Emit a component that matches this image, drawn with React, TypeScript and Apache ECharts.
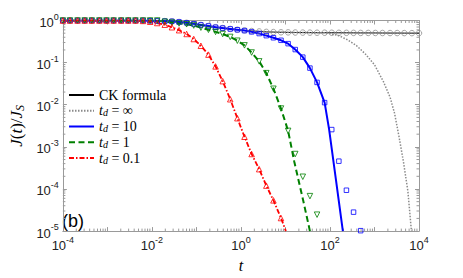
import React, { useEffect, useRef } from "react";
import * as echarts from "echarts";

// marker abscissae, log10(t)
const tExp = [
  -4.0, -3.84, -3.67, -3.51, -3.35, -3.18, -3.02, -2.86, -2.69, -2.53,
  -2.37, -2.2, -2.04, -1.88, -1.71, -1.55, -1.39, -1.22, -1.06, -0.9,
  -0.73, -0.57, -0.41, -0.24, -0.08, 0.08, 0.24, 0.41, 0.57, 0.73,
  0.9, 1.06, 1.22, 1.39, 1.55, 1.71, 1.88, 2.04, 2.2, 2.37,
  2.53, 2.69, 2.86, 3.02, 3.18, 3.35, 3.51, 3.67, 3.84, 4.0,
];

// log10(J/JS)
const ckLogJ = [
  0, 0, 0, 0, 0, 0, 0, 0, 0, 0,
  0, 0, -0.005, -0.01, -0.015, -0.02, -0.035, -0.055, -0.08, -0.105,
  -0.13, -0.16, -0.18, -0.2, -0.22, -0.235, -0.25, -0.26, -0.27, -0.275,
  -0.28, -0.282, -0.285, -0.287, -0.288, -0.29, -0.29, -0.291, -0.292, -0.293,
  -0.294, -0.295, -0.295, -0.296, -0.297, -0.298, -0.298, -0.299, -0.3, -0.3,
];

const infTailExp = [2.0, 2.2, 2.4, 2.6, 2.8, 3.0, 3.2, 3.35, 3.45, 3.55, 3.65, 3.75, 3.83];
const infTailLogJ = [-0.31, -0.36, -0.46, -0.6, -0.8, -1.05, -1.45, -1.82, -2.2, -2.75, -3.35, -4.05, -5.0];

const blueLogJ = [
  0, 0, 0, 0, 0, 0, 0, 0, 0, 0,
  0, 0, -0.005, -0.01, -0.015, -0.02, -0.035, -0.055, -0.08, -0.105,
  -0.13, -0.16, -0.18, -0.2, -0.22, -0.24, -0.27, -0.31, -0.36, -0.41,
  -0.47, -0.55, -0.69, -0.87, -1.13, -1.47, -1.95, -2.59, -3.34, -4.03,
  -4.55, -4.99,
];
const blueLineTailExp = [1.98, 2.13, 2.29];
const blueLineTailLogJ = [-2.58, -3.75, -5.0];

const greenLogJ = [
  0, 0, 0, 0, 0, 0, 0, 0, 0, 0,
  0, 0, 0, 0, -0.03, -0.05, -0.07, -0.09, -0.12, -0.17,
  -0.22, -0.27, -0.32, -0.39, -0.48, -0.59, -0.76, -0.97, -1.25, -1.62,
  -2.09, -2.62, -3.17, -3.71, -4.17, -4.61,
];
const greenLineTailExp = [1.2, 1.4, 1.55];
const greenLineTailLogJ = [-3.36, -4.28, -5.0];

const redLogJ = [
  0, 0, 0, 0, 0, 0, 0, 0, 0, 0,
  0, -0.01, -0.03, -0.06, -0.1, -0.16, -0.23, -0.32, -0.44, -0.6,
  -0.81, -1.09, -1.44, -1.87, -2.32, -2.76, -3.17, -3.53, -3.92, -4.27,
  -4.69,
];
const redLineTailExp = [1.01];
const redLineTailLogJ = [-5.0];

const legendNames = ["CK formula", "t_d = ∞", "t_d = 10", "t_d = 1", "t_d = 0.1"];

const xDecades = [-4, -3, -2, -1, 0, 1, 2, 3];
const yDecades = [-5, -4, -3, -2, -1];
const minorMult = [2, 3, 4, 5, 6, 7, 8, 9];

const pts = (xs: number[], ys: number[]) => ys.map((y, i) => [10 ** xs[i], 10 ** y]);
const linePts = (ys: number[], tx: number[], ty: number[]) =>
  pts(tExp, ys).concat(pts(tx, ty));

const AXIS = "#9a9a9a";
const SANS = "Liberation Sans, Arial, sans-serif";
const SERIF = "Liberation Serif, Times New Roman, serif";

export default function App() {
  const ref = useRef<HTMLDivElement>(null);
  useEffect(() => {
    if (!ref.current) return;
    const chart = echarts.init(ref.current, undefined, { renderer: "svg" });

    const supLabel = (v: number) => {
      const e = Math.round(Math.log10(v));
      return `{b|10}{s|${e}}`;
    };
    const labelRich = {
      b: { fontFamily: SANS, fontSize: 13, color: "#222", lineHeight: 17, verticalAlign: "bottom" },
      s: { fontFamily: SANS, fontSize: 9, color: "#222", lineHeight: 6, verticalAlign: "top" },
    };

    const xMinor = xDecades.flatMap((d) => minorMult.map((m) => [m * 10 ** d, 1]));
    const yMinor = yDecades.flatMap((d) => minorMult.map((m) => [1, m * 10 ** d]));

    const tickStyle = { stroke: AXIS, lineWidth: 1 };

    const option: any = {
      animation: false,
      grid: { left: 60, right: 44, top: 20.5, bottom: 45.5, containLabel: false },
      legend: {
        data: legendNames,
        orient: "vertical",
        left: 68,
        top: 88,
        itemWidth: 25,
        itemHeight: 14,
        itemGap: 1.75,
        padding: 0,
        itemStyle: { opacity: 0 },
        formatter: (name: string) => {
          if (name === "CK formula") return "{n|CK formula}";
          const v = name.split("=")[1].trim();
          return `{it|t}{sub|d}{n| = ${v}}`;
        },
        textStyle: {
          rich: {
            n: { fontFamily: SERIF, fontSize: 14, color: "#000", lineHeight: 14 },
            it: { fontFamily: SERIF, fontStyle: "italic", fontSize: 14, color: "#000", lineHeight: 14 },
            sub: { fontFamily: SERIF, fontStyle: "italic", fontSize: 10, color: "#000", lineHeight: 8, verticalAlign: "bottom" },
          },
        },
      },
      xAxis: [
        {
          type: "log",
          logBase: 10,
          min: 1e-4,
          max: 1e4,
          splitNumber: 8,
          name: "t",
          nameLocation: "middle",
          nameGap: 24,
          nameTextStyle: { fontFamily: SERIF, fontStyle: "italic", fontSize: 16, color: "#000" },
          axisLine: { show: true, lineStyle: { color: AXIS, width: 1 } },
          axisTick: { show: true, inside: true, length: 4, lineStyle: { color: AXIS } },
          splitLine: { show: false },
          axisLabel: {
            margin: 4,
            formatter: (v: number) => {
              const e = Math.round(Math.log10(v));
              return e % 2 === 0 ? supLabel(v) : "";
            },
            rich: labelRich,
          },
        },
        {
          type: "log",
          logBase: 10,
          min: 1e-4,
          max: 1e4,
          splitNumber: 8,
          position: "top",
          axisLine: { show: true, lineStyle: { color: AXIS, width: 1 } },
          axisTick: { show: true, inside: true, length: 4, lineStyle: { color: AXIS } },
          axisLabel: { show: false },
          splitLine: { show: false },
        },
      ],
      yAxis: [
        {
          type: "log",
          logBase: 10,
          min: 1e-5,
          max: 1,
          splitNumber: 5,
          name: "{i|J}{n|(}{i|t}{n|)/}{i|J}{sub|S}",
          nameLocation: "middle",
          nameGap: 28,
          nameTextStyle: {
            rich: {
              i: { fontFamily: SERIF, fontStyle: "italic", fontSize: 17, color: "#000", lineHeight: 18 },
              n: { fontFamily: SERIF, fontSize: 17, color: "#000", lineHeight: 18 },
              sub: { fontFamily: SERIF, fontStyle: "italic", fontSize: 12, color: "#000", lineHeight: 8, verticalAlign: "bottom" },
            },
          },
          axisLine: { show: true, lineStyle: { color: AXIS, width: 1 } },
          axisTick: { show: true, inside: true, length: 4, lineStyle: { color: AXIS } },
          splitLine: { show: false },
          axisLabel: { margin: 4, formatter: supLabel, rich: labelRich },
        },
        {
          type: "log",
          logBase: 10,
          min: 1e-5,
          max: 1,
          splitNumber: 5,
          position: "right",
          axisLine: { show: true, lineStyle: { color: AXIS, width: 1 } },
          axisTick: { show: true, inside: true, length: 4, lineStyle: { color: AXIS } },
          axisLabel: { show: false },
          splitLine: { show: false },
        },
      ],
      graphic: [
        {
          type: "text",
          left: 62,
          top: 212,
          style: { text: "(b)", font: `18px ${SANS}`, fill: "#000" },
        },
      ],
      series: [
        {
          type: "custom",
          silent: true,
          clip: false,
          data: xMinor,
          encode: { x: 0, y: 1 },
          renderItem: (_p: any, api: any) => {
            const v = api.value(0);
            const b = api.coord([v, 1e-5]);
            const t = api.coord([v, 1]);
            return {
              type: "group",
              children: [
                { type: "line", shape: { x1: b[0], y1: b[1], x2: b[0], y2: b[1] - 2.5 }, style: tickStyle },
                { type: "line", shape: { x1: t[0], y1: t[1], x2: t[0], y2: t[1] + 2.5 }, style: tickStyle },
              ],
            };
          },
        },
        {
          type: "custom",
          silent: true,
          clip: false,
          data: yMinor,
          encode: { x: 0, y: 1 },
          renderItem: (_p: any, api: any) => {
            const v = api.value(1);
            const l = api.coord([1e-4, v]);
            const r = api.coord([1e4, v]);
            return {
              type: "group",
              children: [
                { type: "line", shape: { x1: l[0], y1: l[1], x2: l[0] + 2.5, y2: l[1] }, style: tickStyle },
                { type: "line", shape: { x1: r[0], y1: r[1], x2: r[0] - 2.5, y2: r[1] }, style: tickStyle },
              ],
            };
          },
        },
        {
          name: "CK formula",
          type: "line",
          data: pts(tExp, ckLogJ),
          symbol: "none",
          clip: true,
          z: 3,
          lineStyle: { color: "#000", width: 1 },
          itemStyle: { color: "#000" },
        },
        {
          name: "t_d = ∞",
          type: "line",
          data: pts(tExp.slice(0, 37), ckLogJ.slice(0, 37)).concat(pts(infTailExp, infTailLogJ)),
          symbol: "none",
          clip: true,
          z: 3,
          lineStyle: { color: "#8a8a8a", width: 1.5, type: [1.5, 1.5] },
          itemStyle: { color: "#8a8a8a" },
        },
        {
          name: "t_d = 10",
          type: "line",
          data: linePts(blueLogJ.slice(0, 37), blueLineTailExp, blueLineTailLogJ),
          symbol: "none",
          clip: true,
          z: 3,
          lineStyle: { color: "#0000ff", width: 2 },
          itemStyle: { color: "#0000ff" },
        },
        {
          name: "t_d = 1",
          type: "line",
          data: linePts(greenLogJ.slice(0, 32), greenLineTailExp, greenLineTailLogJ),
          symbol: "none",
          clip: true,
          z: 3,
          lineStyle: { color: "#008000", width: 2, type: [6, 3.5] },
          itemStyle: { color: "#008000" },
        },
        {
          name: "t_d = 0.1",
          type: "line",
          data: linePts(redLogJ, redLineTailExp, redLineTailLogJ),
          symbol: "none",
          clip: true,
          z: 3,
          lineStyle: { color: "#ff0000", width: 1.8, type: [5, 2, 1.5, 2] },
          itemStyle: { color: "#ff0000" },
        },
        {
          type: "scatter",
          data: pts(tExp, ckLogJ),
          symbol: "circle",
          symbolSize: 5.5,
          clip: true,
          z: 4,
          itemStyle: { color: "transparent", borderColor: "#8c8c8c", borderWidth: 1 },
        },
        {
          type: "scatter",
          data: pts(tExp, blueLogJ),
          symbol: "rect",
          symbolSize: 4.5,
          clip: true,
          z: 4,
          itemStyle: { color: "transparent", borderColor: "#0000ff", borderWidth: 1 },
        },
        {
          type: "scatter",
          data: pts(tExp, greenLogJ),
          symbol: "triangle",
          symbolRotate: 180,
          symbolSize: 5.5,
          clip: true,
          z: 4,
          itemStyle: { color: "transparent", borderColor: "#008000", borderWidth: 1 },
        },
        {
          type: "scatter",
          data: pts(tExp, redLogJ),
          symbol: "triangle",
          symbolSize: 5.5,
          clip: true,
          z: 4,
          itemStyle: { color: "transparent", borderColor: "#ff0000", borderWidth: 1 },
        },
      ],
    };
    chart.setOption(option);
    return () => chart.dispose();
  }, []);

  return (
    <div
      ref={ref}
      style={{ position: "fixed", left: 0, top: 0, width: 463, height: 278, background: "#fff" }}
    />
  );
}
